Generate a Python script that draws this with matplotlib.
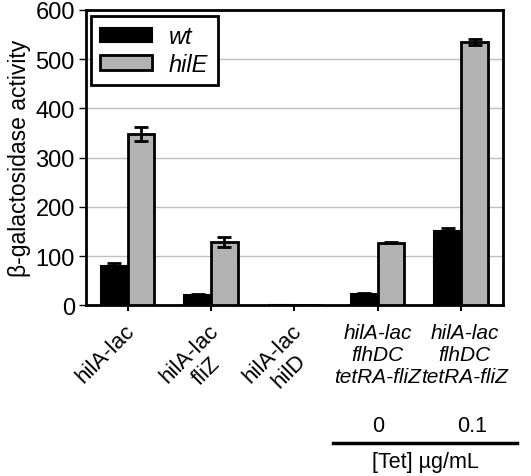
import matplotlib.pyplot as plt
import numpy as np

plt.rcParams['font.family'] = ['Liberation Sans', 'DejaVu Sans']

strains = ['hilA-lac', 'hilA-lac\nfliZ', 'hilA-lac\nhilD',
           'hilA-lac\nflhDC\ntetRA-fliZ', 'hilA-lac\nflhDC\ntetRA-fliZ']
wt = [80, 20, 1, 22, 150]
wt_err = [5, 2, 0, 2, 7]
hile = [348, 128, 1, 127, 535]
hile_err = [15, 10, 0, 1, 6]
tet = ['0', '0.1']

fig = plt.figure(figsize=(5.31, 4.77), dpi=100)
ax = fig.add_axes([0.162, 0.358, 0.785, 0.619])

x = np.arange(len(strains)) + 0.5
w = 0.32
ax.bar(x - w / 2, wt, w, yerr=wt_err, color='black', edgecolor='black', linewidth=1.5,
       capsize=5, error_kw=dict(elinewidth=2, capthick=2), label='wt', zorder=3)
ax.bar(x + w / 2, hile, w, yerr=hile_err, color='#b3b3b3', edgecolor='black', linewidth=2,
       capsize=5, error_kw=dict(elinewidth=2, capthick=2), label='hilE', zorder=3)

ax.set_xlim(0, 5)
ax.set_ylim(0, 600)
ax.set_yticks(range(0, 601, 100))
ax.tick_params(axis='y', labelsize=17, length=5, width=1, pad=3)
ax.set_xticks(x)
ax.set_xticklabels([])
ax.tick_params(axis='x', length=4, width=1.5)
ax.yaxis.grid(True, color='#c0c0c0', linewidth=1)
ax.set_axisbelow(True)
for s in ax.spines.values():
    s.set_linewidth(2)
ax.set_ylabel('β-galactosidase activity', fontsize=16.5, labelpad=3)

for i in range(3):
    ax.text(x[i] - 0.04, -30, strains[i], rotation=45, rotation_mode='anchor',
            ha='right', va='top', multialignment='center', fontsize=16,
            clip_on=False)
for i in range(3, 5):
    ax.text(x[i] + (0.04 if i == 4 else 0), -36, strains[i], ha='center', va='top',
            fontsize=15, style='italic', linespacing=1.2, clip_on=False)

for i, t in enumerate(tet):
    fig.text(x[3 + i] / 5 * 0.785 + 0.162 + (0.02 if i else 0), 1 - 427 / 477, t,
             ha='center', va='center', fontsize=15.5)
fig.add_artist(plt.Line2D([333 / 531, 517 / 531], [1 - 444 / 477] * 2,
                          color='black', linewidth=2.5))
fig.text(425 / 531, 1 - 463 / 477, '[Tet] µg/mL', ha='center', va='center', fontsize=15.5)

leg = ax.legend(loc='upper left', bbox_to_anchor=(0.012, 0.98), borderaxespad=0,
                prop=dict(style='italic', size=17), handlelength=2.2, handleheight=0.6,
                fancybox=False, framealpha=1, edgecolor='black', borderpad=0.4,
                labelspacing=0.2, handletextpad=0.7)
leg.get_frame().set_linewidth(2)

fig.savefig('out.png', dpi=100)
